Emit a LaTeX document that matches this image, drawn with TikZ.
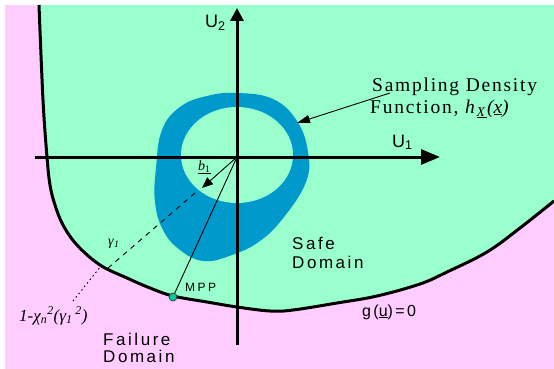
\documentclass[tikz,border=0pt]{standalone}
\usepackage{fontspec}
\setmainfont{Liberation Serif}
\newfontfamily\sansLS[LetterSpace=15]{Liberation Sans}
\newfontfamily\sansPlain{Liberation Sans}
\newfontfamily\serifLS[LetterSpace=9]{Liberation Serif}
\usetikzlibrary{arrows.meta}
\definecolor{pinkbg}{HTML}{FFCCFF}
\definecolor{safegreen}{HTML}{99FFCC}
\definecolor{ringblue}{HTML}{0099CC}
\definecolor{mppgreen}{HTML}{00CC99}
\begin{document}
\begin{tikzpicture}[x=1pt,y=-1pt,
  lbl/.style={inner sep=0pt, anchor=base west},
  sanslbl/.style={lbl, font=\sansLS\fontsize{17}{19}\selectfont},
  seriflbl/.style={lbl, font=\serifLS\fontsize{19.5}{22}\selectfont},
  thinline/.style={line width=0.9pt},
  axisline/.style={line width=3pt}]
\useasboundingbox (0,0) rectangle (554,369);
% background
\fill[white] (0,0) rectangle (554,369);
\fill[pinkbg] (5,5) rectangle (554,369);
\fill[safegreen] plot[smooth, tension=0.6] coordinates {(39,5) (43,100) (47,157) (50,185) (55,205) (63,225) (77,245) (100,265) (127,278) (150,288) (173,296) (207,302) (237,307) (270,311) (293,310) (337,303) (377,296) (420,284) (447,272) (487,252) (520,228) (554,201)} -- (554,5) -- cycle;
% sampling density ring
\fill[ringblue] plot[smooth cycle, tension=0.7] coordinates {(237,93) (273,99) (297,121) (308,152) (306,182) (284,217) (260,241) (232,255) (204,261) (180,250) (163,230) (155,202) (156,168) (162,130) (180,107) (207,96)};
\fill[safegreen] (237,155) ellipse [x radius=56, y radius=48];
% limit state curve
\draw[axisline, line join=round] plot[smooth, tension=0.6] coordinates {(39,5) (43,100) (47,157) (50,185) (55,205) (63,225) (77,245) (100,265) (127,278) (150,288) (173,296) (207,302) (237,307) (270,311) (293,310) (337,303) (377,296) (420,284) (447,272) (487,252) (520,228) (554,201)};
% coordinates
\coordinate (O) at (237,157);
\coordinate (xL) at (35,157);
\coordinate (xR) at (440,157);
\coordinate (yB) at (237,345);
\coordinate (yT) at (237,8);
\coordinate (btip) at (202,188);
\coordinate (sdStart) at (390,93);
\coordinate (sdTip) at (297,123);
\coordinate (g1a) at (195,193);
\coordinate (g1b) at (108,268);
\coordinate (chiLead) at (73,301);
\coordinate (bndPt) at (101,266);
% axes
\draw[axisline, -{Triangle[length=19pt,width=15pt]}] (xL) -- (xR);
\draw[axisline, -{Triangle[length=13pt,width=13pt]}] (yB) -- (yT);
% MPP point and lines
\node[circle, fill=mppgreen, draw=black!80, line width=0.7pt, minimum size=8pt, inner sep=0pt] (mpp) at (173,297) {};
\draw[thinline] (O) -- (mpp);
\draw[thinline, -{Triangle[length=11pt,width=9pt]}] (O) -- (btip);
\draw[thinline, dash pattern=on 5pt off 5pt] (g1a) -- (g1b);
\draw[thinline, dash pattern=on 1.5pt off 3pt] (chiLead) -- (bndPt);
\draw[thinline, -{Triangle[length=13pt,width=8pt]}] (sdStart) -- (sdTip);
% labels
\node[lbl, font=\sansPlain\fontsize{18}{20}\selectfont] (u2) at (205,28) {U\textsubscript{2}};
\node[lbl, font=\sansPlain\fontsize{18}{20}\selectfont] (u1) at (392,147) {U\textsubscript{1}};
\node[seriflbl] (sd1) at (372,91) {Sampling Density};
\node[seriflbl] (sd2) at (370,113) {Function, \textit{h}\textsubscript{\underline{\textit{X}}}\textit{(\underline{x})}};
\node[sanslbl] (safe1) at (292,249) {Safe};
\node[sanslbl] (safe2) at (292,268) {Domain};
\node[sanslbl] (fail1) at (103,345) {Failure};
\node[sanslbl] (fail2) at (103,362) {Domain};
\node[lbl, font=\sansLS\fontsize{16}{18}\selectfont] (gu) at (362,316) {g(\underline{u})=0};
\node[lbl, font=\sansLS\addfontfeature{LetterSpace=20}\fontsize{12}{14}\selectfont] (mppl) at (185,291) {MPP};
\node[lbl, font=\fontsize{14}{16}\selectfont] (b1) at (198,170) {\underline{\textit{b}\textsubscript{1}}};
\node[lbl, font=\fontsize{14}{16}\selectfont] (g1) at (108,245) {\textit{γ}\textsubscript{\textit{1}}};
\node[lbl, font=\fontsize{17}{19}\selectfont\itshape] (chi) at (19,321) {1-χ\textsubscript{n}\textsuperscript{2}(γ\textsubscript{1}\,\textsuperscript{2})};
\end{tikzpicture}
\end{document}
